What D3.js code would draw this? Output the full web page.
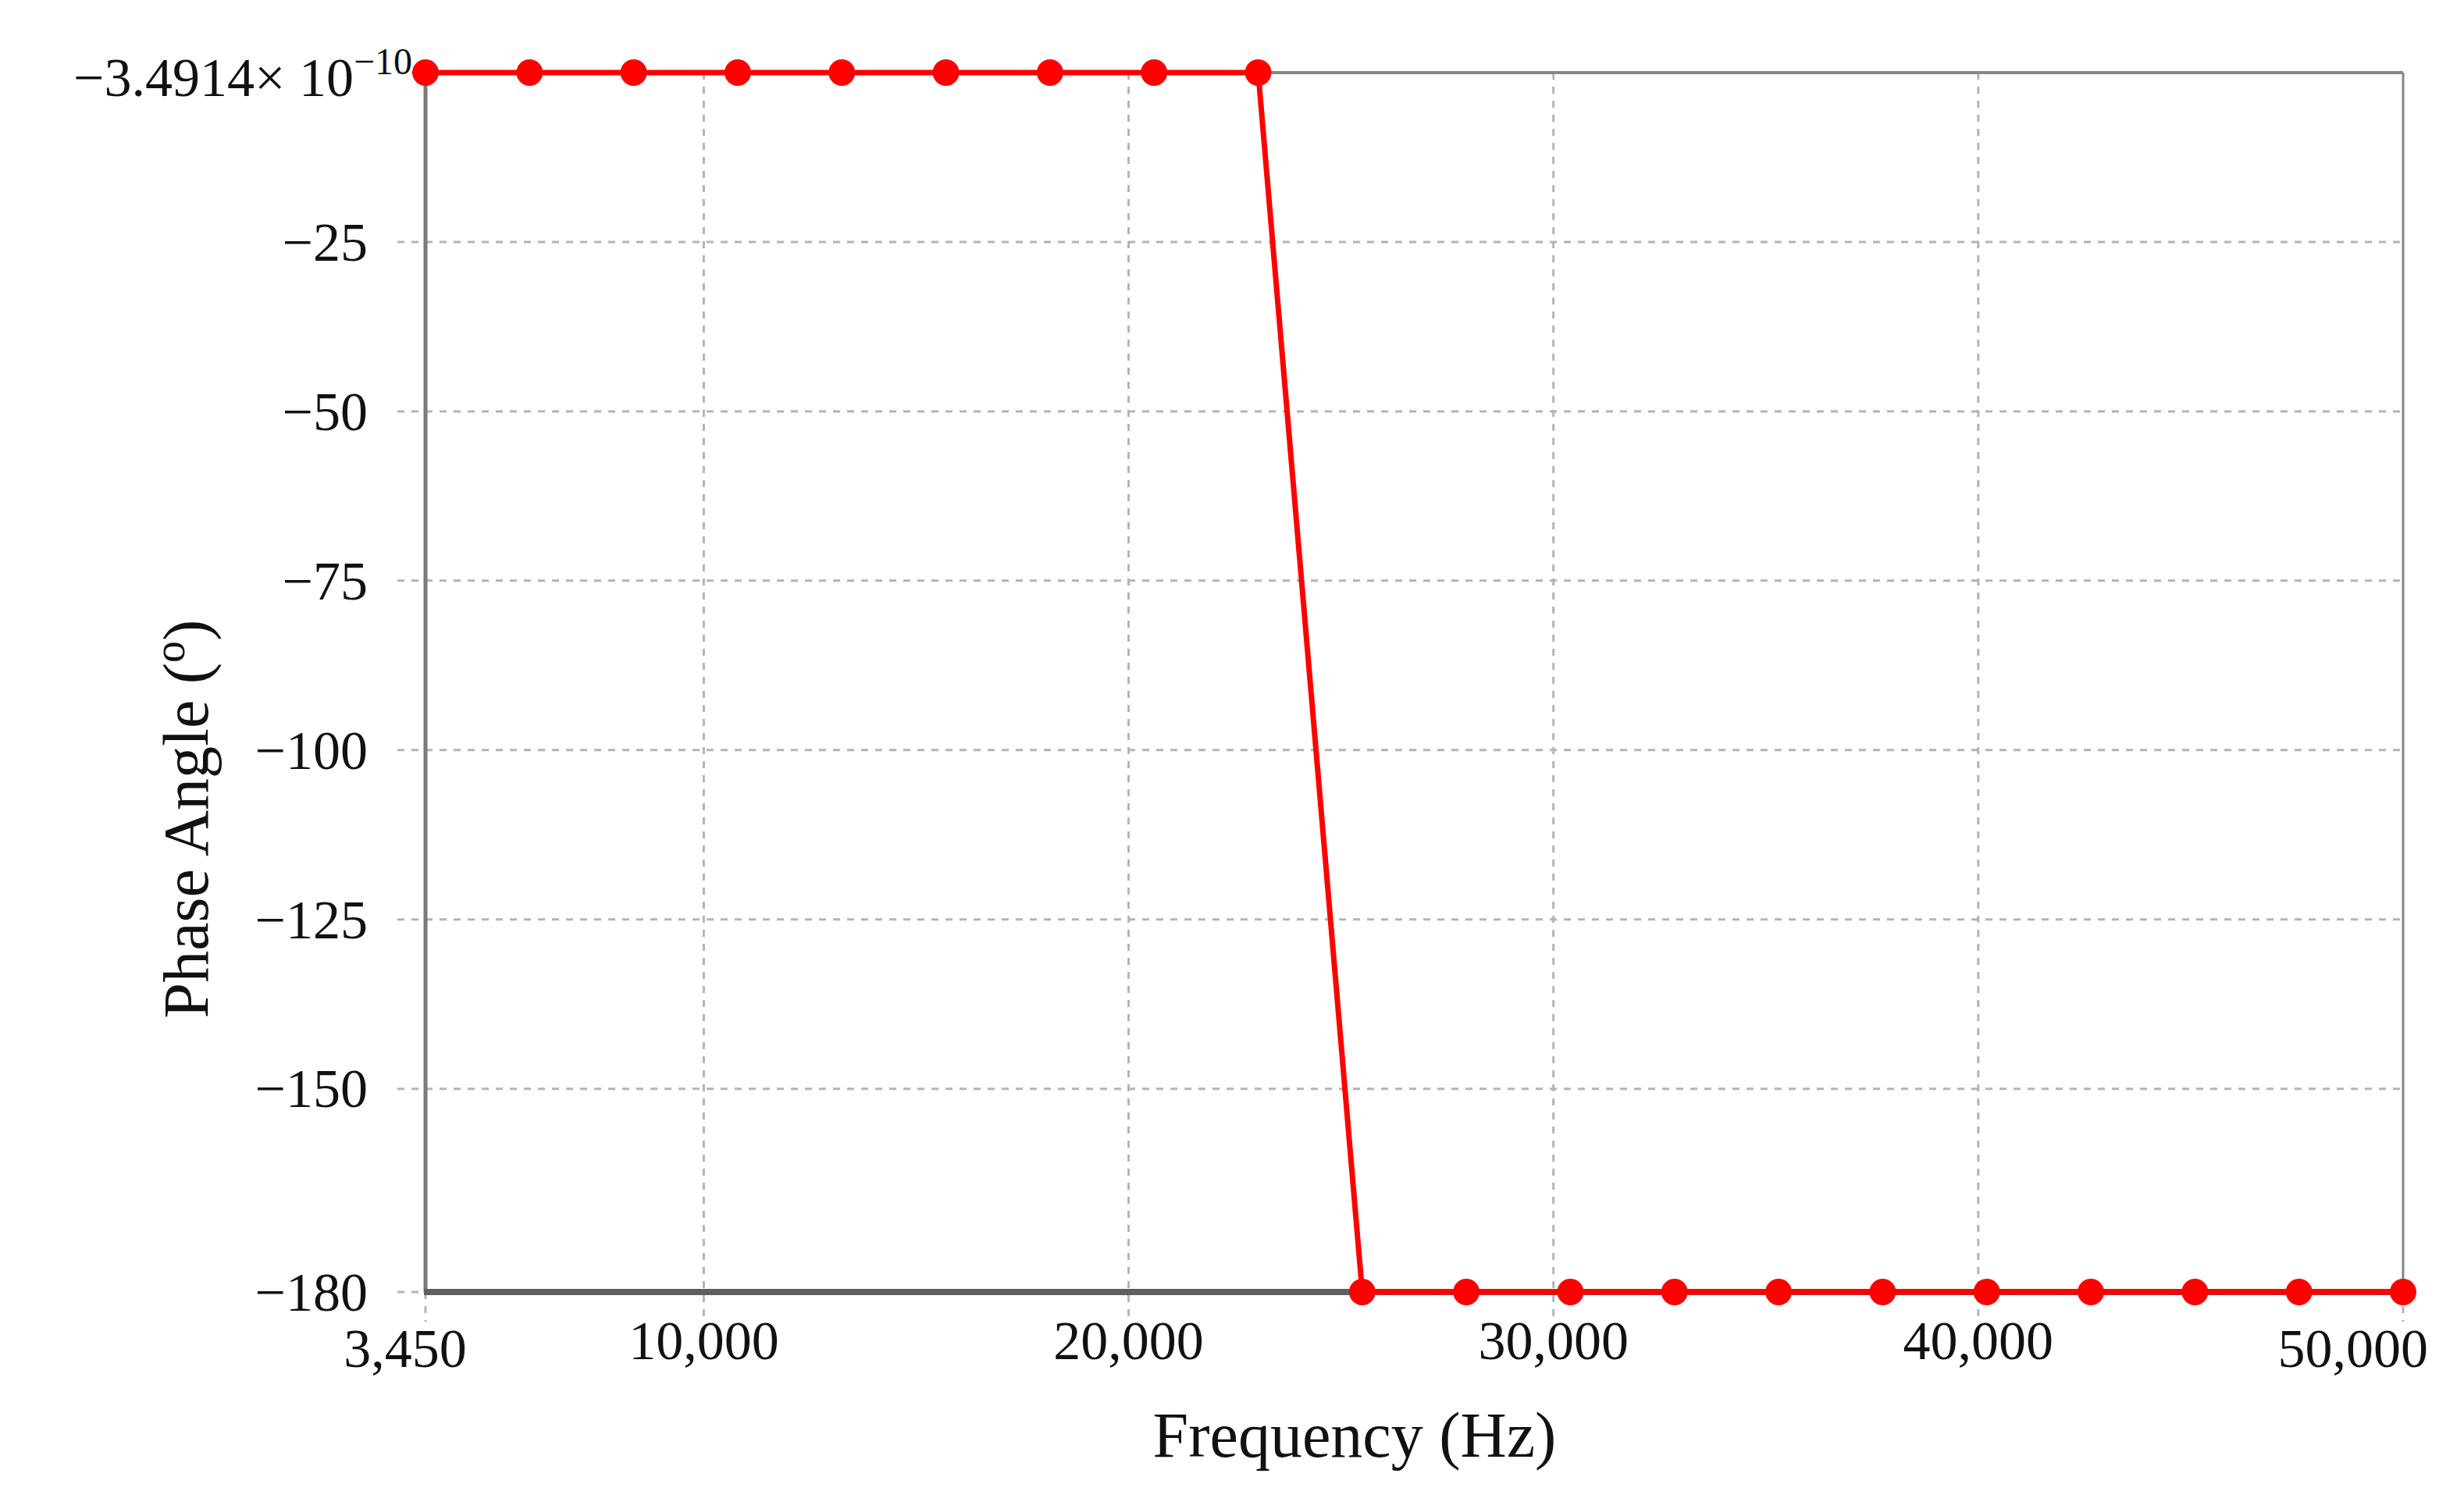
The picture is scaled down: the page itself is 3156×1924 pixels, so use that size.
<!DOCTYPE html>
<html>
<head>
<meta charset="utf-8">
<script src="https://cdn.jsdelivr.net/npm/d3@7"></script>
<style>
  body { margin: 0; background: #fff; }
  svg { display: block; font-family: "Liberation Serif", "DejaVu Serif", serif; }
  .grid line { stroke: #b4b4b4; stroke-width: 3; stroke-dasharray: 9 9; }
  .tick-label { font-size: 70px; fill: #111; }
  .axis-title { font-size: 82px; fill: #111; }
</style>
</head>
<body>
<svg></svg>
<script>
var width = 3156,
    height = 1924;

var margin = { top: 93, right: 78, bottom: 269, left: 545 };
var plotW = width - margin.left - margin.right,
    plotH = height - margin.top - margin.bottom;

// Frequency (Hz) samples
var freqs = [3450, 5900, 8350, 10800, 13250, 15700, 18150, 20600, 23050, 25500,
             27950, 30400, 32850, 35300, 37750, 40200, 42650, 45100, 47550, 50000];

// Phase angle (degrees)
var phase = [-3.4914e-10, -3.4914e-10, -3.4914e-10, -3.4914e-10, -3.4914e-10,
             -3.4914e-10, -3.4914e-10, -3.4914e-10, -3.4914e-10, -180,
             -180, -180, -180, -180, -180, -180, -180, -180, -180, -180];

var xTicks = [3450, 10000, 20000, 30000, 40000, 50000];
var yTicks = [-3.4914e-10, -25, -50, -75, -100, -125, -150, -180];
var xGrid = [10000, 20000, 30000, 40000];
var yGrid = [-25, -50, -75, -100, -125, -150];

var x = d3.scaleLinear()
    .domain([3450, 50000])
    .range([0, plotW]);

var y = d3.scaleLinear()
    .domain([-180, -3.4914e-10])
    .range([plotH, 0]);

var svg = d3.select('svg')
    .attr('width', width)
    .attr('height', height);

svg.append('rect')
    .attr('width', width)
    .attr('height', height)
    .attr('fill', '#fff');

var g = svg.append('g')
    .attr('transform', 'translate(' + margin.left + ',' + margin.top + ')');

// Grid lines (dashed), poking out past the axes like tick marks
var grid = g.append('g').attr('class', 'grid');

grid.selectAll('.vg')
    .data(xTicks)
    .enter().append('line')
    .attr('x1', function(d) { return x(d); })
    .attr('x2', function(d) { return x(d); })
    .attr('y1', function(d) { return xGrid.indexOf(d) >= 0 ? 0 : plotH; })
    .attr('y2', plotH + 38);

grid.selectAll('.hg')
    .data(yTicks)
    .enter().append('line')
    .attr('y1', function(d) { return y(d); })
    .attr('y2', function(d) { return y(d); })
    .attr('x1', -36)
    .attr('x2', function(d) { return yGrid.indexOf(d) >= 0 ? plotW : 0; });

// Frame
g.append('line').attr('x1', 0).attr('x2', plotW).attr('y1', 0).attr('y2', 0)
    .attr('stroke', '#858585').attr('stroke-width', 4);
g.append('line').attr('x1', plotW).attr('x2', plotW).attr('y1', 0).attr('y2', plotH)
    .attr('stroke', '#858585').attr('stroke-width', 3);
g.append('line').attr('x1', 0).attr('x2', 0).attr('y1', 0).attr('y2', plotH)
    .attr('stroke', '#7a7a7a').attr('stroke-width', 5);
g.append('line').attr('x1', -2).attr('x2', plotW).attr('y1', plotH).attr('y2', plotH)
    .attr('stroke', '#5f5f5f').attr('stroke-width', 8);

// Y tick labels
var fmt = d3.format(',');
g.selectAll('.ylab')
    .data(yTicks.slice(1))
    .enter().append('text')
    .attr('class', 'tick-label')
    .attr('x', -74)
    .attr('y', function(d) { return y(d); })
    .attr('dy', '0.34em')
    .attr('text-anchor', 'end')
    .text(function(d) { return '\u2212' + Math.abs(d); });

var topLab = g.append('text')
    .attr('class', 'tick-label')
    .attr('x', -17)
    .attr('y', y(yTicks[0]) + 30)
    .attr('text-anchor', 'end');
topLab.append('tspan').text('\u22123.4914\u00d7 10');
topLab.append('tspan')
    .attr('dy', -28)
    .style('font-size', '48px')
    .text('\u221210');

// X tick labels
g.selectAll('.xlab')
    .data(xTicks)
    .enter().append('text')
    .attr('class', 'tick-label')
    .attr('x', function(d, i) { return i === xTicks.length - 1 ? x(d) + 32 : x(d) - (i === 0 ? 26 : 0); })
    .attr('y', function(d, i) { return plotH + (i === 0 || i === xTicks.length - 1 ? 96 : 86); })
    .attr('text-anchor', function(d, i) { return i === xTicks.length - 1 ? 'end' : 'middle'; })
    .text(function(d) { return fmt(d); });

// Axis titles
svg.append('text')
    .attr('class', 'axis-title')
    .attr('x', 1735)
    .attr('y', 1866)
    .attr('text-anchor', 'middle')
    .text('Frequency (Hz)');

var yTitle = svg.append('text')
    .attr('class', 'axis-title')
    .attr('transform', 'translate(266,1049) rotate(-90)')
    .attr('text-anchor', 'middle');
yTitle.append('tspan').text('Phase Angle (');
yTitle.append('tspan').attr('dy', -30).style('font-size', '56px').text('o');
yTitle.append('tspan').attr('dy', 30).text(')');

// Series
var pts = freqs.map(function(f, i) { return [f, phase[i]]; });

var line = d3.line()
    .x(function(d) { return x(d[0]); })
    .y(function(d) { return y(d[1]); });

g.append('path')
    .datum(pts)
    .attr('d', line)
    .attr('fill', 'none')
    .attr('stroke', '#ff0000')
    .attr('stroke-width', 7)
    .attr('stroke-linejoin', 'round');

g.selectAll('.pt')
    .data(pts)
    .enter().append('circle')
    .attr('cx', function(d) { return x(d[0]); })
    .attr('cy', function(d) { return y(d[1]); })
    .attr('r', 17)
    .attr('fill', '#ff0000');
</script>
</body>
</html>
